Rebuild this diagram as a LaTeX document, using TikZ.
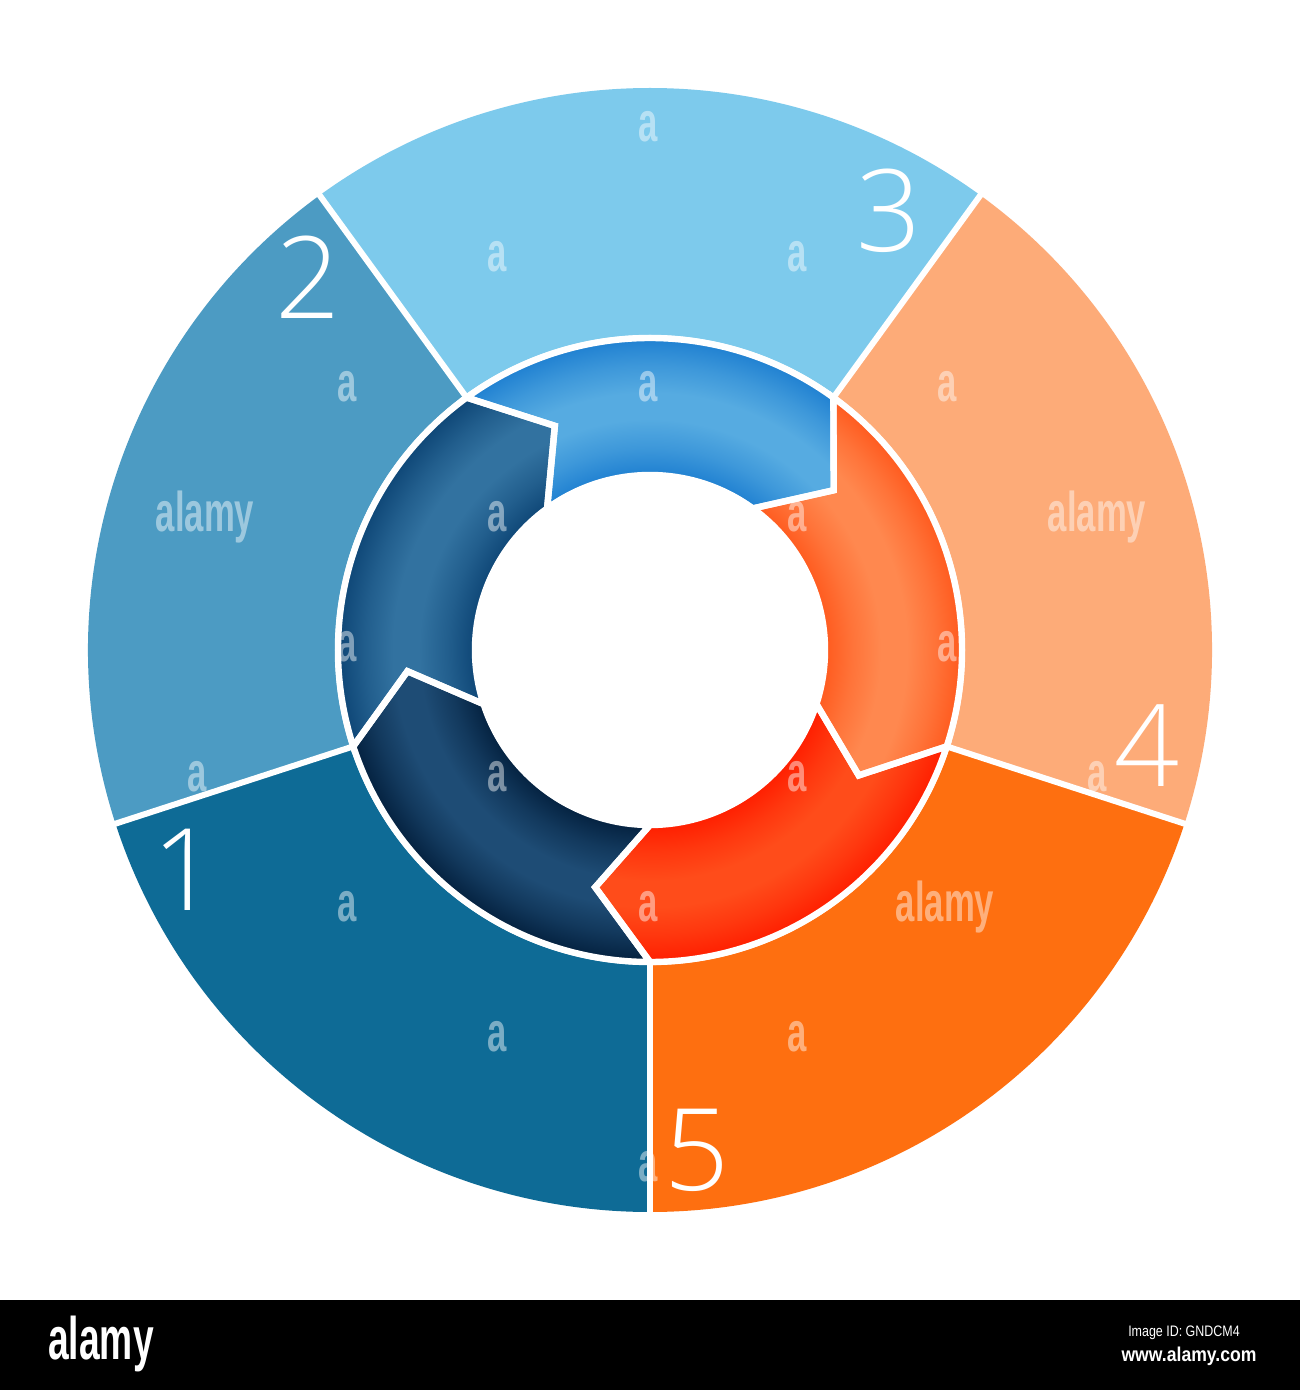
\documentclass[tikz,border=0pt]{standalone}
\usepackage{fontspec}
\setmainfont{Liberation Sans}
\newfontfamily\thinfont{Open Sans Light}
\definecolor{segA}{HTML}{0E6B96}
\definecolor{segB}{HTML}{4C9BC3}
\definecolor{segC}{HTML}{7DCAEC}
\definecolor{segD}{HTML}{FDAB78}
\definecolor{segE}{HTML}{FE6F10}
\newcommand\mkringshade[3]{%
  \colorlet{#1mid}{#2!45!#3}%
  \pgfdeclareradialshading{#1}{\pgfpoint{0bp}{0bp}}{color(0bp)=(#2); color(14.0bp)=(#2); color(16.2bp)=(#1mid); color(18.5bp)=(#3); color(20.6bp)=(#3); color(22.8bp)=(#1mid); color(25bp)=(#2); color(50bp)=(#2)}}
\definecolor{arAd}{HTML}{04213F}\definecolor{arAl}{HTML}{1E4C75}
\definecolor{arBd}{HTML}{0E4676}\definecolor{arBl}{HTML}{3272A0}
\definecolor{arCd}{HTML}{1F80D1}\definecolor{arCl}{HTML}{56ABE1}
\definecolor{arDd}{HTML}{FF5A1E}\definecolor{arDl}{HTML}{FF884F}
\definecolor{arEd}{HTML}{FF1E00}\definecolor{arEl}{HTML}{FF4C1A}
\mkringshade{shA}{arAd}{arAl}
\mkringshade{shB}{arBd}{arBl}
\mkringshade{shC}{arCd}{arCl}
\mkringshade{shD}{arDd}{arDl}
\mkringshade{shE}{arEd}{arEl}
\begin{document}
\begin{tikzpicture}[x=0.5pt,y=0.5pt,
  sepline/.style={white,line width=3pt},
  arrowedge/.style={white,line width=3.2pt,line join=miter},
  num/.style={text=white,font=\thinfont\fontsize{57}{57}\selectfont,inner sep=0pt},
  wmark/.style={text=white,text opacity=0.45,font=\bfseries\fontsize{28}{28}\selectfont,xscale=0.62,inner sep=0pt},
  barlogo/.style={text=white,font=\bfseries\fontsize{30}{30}\selectfont,xscale=0.62,inner sep=0pt},
  bartext/.style={text=white,inner sep=0pt}]
\useasboundingbox (-650,-740) rectangle (650,650);
\fill[white] (-650,-740) rectangle (650,650);
% outer segments
\foreach \a/\c in {270/segA,198/segB,126/segC,54/segD,-18/segE}{
  \fill[\c] (0,0) -- (\a:562) arc[start angle=\a, end angle={\a-72}, radius=562] -- cycle;
}
\foreach \a in {270,198,126,54,-18}{
  \draw[sepline] (\a:280) -- (\a:575);
}
\fill[white] (0,0) circle (315);
% inner ring arrows
\foreach \a/\s in {270/shA,198/shB,126/shC,54/shD,-18/shE}{
  \begin{scope}
    \clip (\a:312) arc[start angle=\a, end angle={\a-72}, radius=312] -- ({\a-85}:243.5) -- ({\a-72}:175) arc[start angle={\a-72}, end angle=\a, radius=175] -- ({\a-13}:243.5) -- cycle;
    \shade[shading=\s] (0,0) circle (312);
  \end{scope}
}
\foreach \a in {270,198,126,54,-18}{
  \draw[arrowedge] (\a:312) arc[start angle=\a, end angle={\a-72}, radius=312] -- ({\a-85}:243.5) -- ({\a-72}:175) arc[start angle={\a-72}, end angle=\a, radius=175] -- ({\a-13}:243.5) -- cycle;
}
% watermark letters
\foreach \x/\y [count=\i] in {-2/523,-153/393,147/393,-303/263,-2/263,297/263,-153/133,147/133,-303/3,297/3,-453/-127,-153/-127,147/-127,447/-127,-303/-257,-2/-257,-153/-387,147/-387,-2/-517}{
  \node[wmark] (wa\i) at (\x,\y) {a};
}
\node[wmark] (wm1) at (-445,133) {alamy};
\node[wmark] (wm2) at (447,133) {alamy};
\node[wmark] (wm3) at (295,-257) {alamy};
% numbers
\node[num] (n1) at (-465,-220) {1};
\node[num] (n2) at (-342,373) {2};
\node[num] (n3) at (239,439) {3};
\node[num] (n4) at (497,-96) {4};
\node[num] (n5) at (47,-500) {5};
% bottom bar
\fill[black] (-650,-650) rectangle (650,-740);
\node[barlogo] (logo) at (-549,-694) {alamy};
\node[bartext,font=\fontsize{7.6}{8}\selectfont,xscale=0.82] (imgid) at (534,-683) {Image ID: GNDCM4};
\node[bartext,font=\bfseries\fontsize{10}{10}\selectfont,xscale=0.88] (url) at (539,-706) {www.alamy.com};
\end{tikzpicture}
\end{document}
